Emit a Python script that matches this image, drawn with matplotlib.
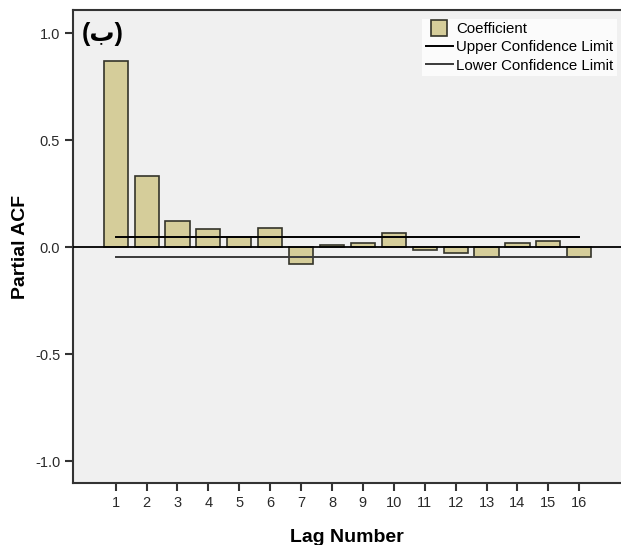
import matplotlib
matplotlib.use("Agg")
import matplotlib.pyplot as plt
from matplotlib.lines import Line2D
import numpy as np

plt.rcParams['font.family'] = ['Liberation Sans', 'DejaVu Sans']

lags = list(range(1, 17))
pacf = [0.870, 0.335, 0.123, 0.086, 0.047, 0.092, -0.079, 0.012,
        0.021, 0.067, -0.013, -0.025, -0.047, 0.021, 0.029, -0.044]
upper_conf = [0.048] * 16
lower_conf = [-0.047] * 16
yticks = [-1.0, -0.5, 0.0, 0.5, 1.0]
ytick_labels = ["-1.0", "-0.5", "0.0", "0.5", "1.0"]

bar_color = "#d5cd9a"
edge_color = "#34342a"

fig = plt.figure(figsize=(6.21, 5.45), dpi=100)
fig.patch.set_facecolor("white")
ax = fig.add_axes([72.7 / 621, 1 - 483.3 / 545, 1 - 72.7 / 621, (483.3 - 10) / 545])
ax.set_facecolor("#f0f0f0")

ax.bar(lags, pacf, width=0.78, color=bar_color, edgecolor=edge_color, linewidth=1.2, zorder=2)
ax.axhline(0, color="black", linewidth=1.3, zorder=3)
ax.plot(lags, upper_conf, color="black", linewidth=1.4, zorder=4)
ax.plot(lags, lower_conf, color="#3a3a3a", linewidth=1.4, zorder=4)

ax.set_xlim(-0.39, 17.35)
ax.set_ylim(-1.103, 1.109)
ax.set_xticks(lags)
ax.set_xticklabels([str(l) for l in lags])
ax.set_yticks(yticks)
ax.set_yticklabels(ytick_labels)

for s in ["left", "bottom", "top"]:
    ax.spines[s].set_color("#333333")
    ax.spines[s].set_linewidth(1.5)
ax.spines["right"].set_visible(False)

ax.tick_params(axis="both", direction="out", length=6, width=1.5, color="#333333",
               labelsize=10.5, labelcolor="#2a2a2a", pad=3)

ax.set_xlabel("Lag Number", fontsize=14, fontweight="bold", labelpad=14)
ax.set_ylabel("Partial ACF", fontsize=14, fontweight="bold", labelpad=4)

ax.text(0.017, 0.975, "(ب)", transform=ax.transAxes, fontsize=18, fontweight="bold",
        ha="left", va="top", family=["Liberation Sans", "DejaVu Sans"], zorder=5)

handles = [
    Line2D([], [], marker="s", linestyle="none", markersize=11,
           markerfacecolor=bar_color, markeredgecolor=edge_color, markeredgewidth=1.2),
    Line2D([], [], color="black", linewidth=1.4),
    Line2D([], [], color="#3a3a3a", linewidth=1.4),
]
labels = ["Coefficient", "Upper Confidence Limit", "Lower Confidence Limit"]
leg = fig.legend(handles, labels, loc="upper right",
                 bbox_to_anchor=(617 / 621, 1 - 19 / 545), frameon=True,
                 fancybox=False, facecolor="white", edgecolor="white",
                 fontsize=10.8, handlelength=1.8, handletextpad=0.26,
                 labelspacing=0.28, borderpad=0.22, borderaxespad=0)
leg.get_frame().set_linewidth(0)

fig.savefig("out.png", dpi=100)
